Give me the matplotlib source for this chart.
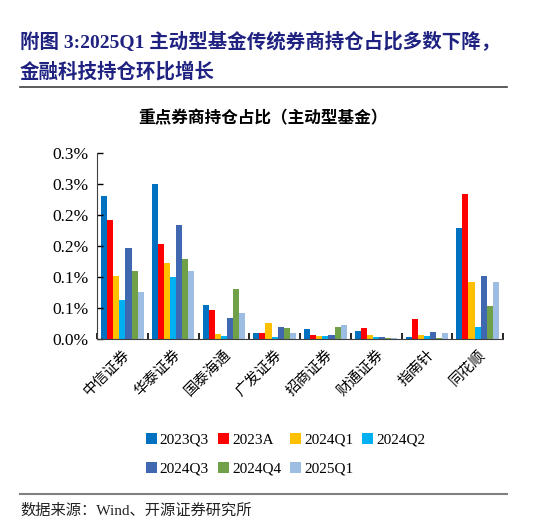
import numpy as np
import matplotlib.pyplot as plt
from matplotlib.ticker import FixedLocator

plt.rcParams['font.family'] = ['Liberation Serif', 'Noto Sans CJK SC']

# data (percent)
brokers = ["中信证券", "华泰证券", "国泰海通", "广发证券", "招商证券", "财通证券", "指南针", "同花顺"]
periods = ["2023Q3", "2023A", "2024Q1", "2024Q2", "2024Q3", "2024Q4", "2025Q1"]
v_2023q3 = [0.230, 0.250, 0.054, 0.010, 0.016, 0.013, 0.003, 0.179]
v_2023a = [0.192, 0.153, 0.047, 0.010, 0.006, 0.017, 0.032, 0.234]
v_2024q1 = [0.102, 0.122, 0.008, 0.025, 0.005, 0.006, 0.007, 0.092]
v_2024q2 = [0.062, 0.099, 0.005, 0.004, 0.005, 0.003, 0.005, 0.020]
v_2024q3 = [0.147, 0.184, 0.033, 0.019, 0.007, 0.003, 0.011, 0.102]
v_2024q4 = [0.109, 0.129, 0.081, 0.017, 0.019, 0.001, 0.002, 0.053]
v_2025q1 = [0.076, 0.110, 0.042, 0.009, 0.022, 0.001, 0.010, 0.091]
yticks = [0.0, 0.05, 0.10, 0.15, 0.20, 0.25, 0.30]
ytick_labels = ["0.0%", "0.1%", "0.1%", "0.2%", "0.2%", "0.3%", "0.3%"]

colors = ["#0070C0", "#FF0000", "#FFC000", "#00B0F0", "#4068B0", "#70A048", "#9DBDE3"]
series = [v_2023q3, v_2023a, v_2024q1, v_2024q2, v_2024q3, v_2024q4, v_2025q1]

cjk = ['Noto Sans CJK SC', 'DejaVu Sans']

fig = plt.figure(figsize=(5.46, 5.2), dpi=100)
ax = fig.add_axes([97 / 546, 1 - 339 / 520, 406 / 546, 186.5 / 520])

x = np.arange(len(brokers))
w = 0.12
for i, (vals, c, lab) in enumerate(zip(series, colors, periods)):
    ax.bar(x + (i - 3) * w, vals, width=w, color=c, label=lab)

ax.set_xlim(-0.5, len(brokers) - 0.5)
ax.set_ylim(0, 0.30)
ax.set_yticks(yticks)
ax.set_yticklabels(ytick_labels, fontsize=12.5)
ax.set_xticks(x)
ax.set_xticklabels(brokers, rotation=45, ha='right', va='top', rotation_mode='anchor',
                   family=cjk, fontsize=10.5)
ax.xaxis.set_minor_locator(FixedLocator(np.arange(-0.5, len(brokers), 1.0)))
ax.tick_params(axis='x', which='major', length=0, pad=6)
ax.tick_params(axis='x', which='minor', direction='in', length=4, width=1.2)
ax.tick_params(axis='y', direction='in', length=4, width=1, pad=6)
for s in ['top', 'right']:
    ax.spines[s].set_visible(False)
ax.spines['left'].set_color('#404040')
ax.spines['bottom'].set_color('#404040')

# legend filled row by row (matplotlib fills by column)
handles, labels = ax.get_legend_handles_labels()
order = [0, 4, 1, 5, 2, 6, 3]
fig.legend([handles[k] for k in order], [labels[k] for k in order],
           loc='upper left', bbox_to_anchor=(140 / 546, 1 - 427 / 520), ncol=4,
           frameon=False, fontsize=11, handlelength=0.7, handleheight=0.7,
           handletextpad=0.2, columnspacing=0.6, labelspacing=1.0, borderaxespad=0)

navy = "#1F2280"
fig.text(20 / 546, 1 - 42 / 520, "附图 3:2025Q1 主动型基金传统券商持仓占比多数下降，",
         family=['Liberation Serif', 'Noto Sans CJK SC'], fontsize=14, fontweight='bold',
         color=navy, va='center', ha='left')
fig.text(20 / 546, 1 - 72 / 520, "金融科技持仓环比增长", family=cjk, fontsize=14,
         fontweight='bold', color=navy, va='center', ha='left')
fig.add_artist(plt.Line2D([20 / 546, 507 / 546], [1 - 87 / 520, 1 - 87 / 520],
                          color='#404040', lw=1.2))
fig.text(263 / 546, 1 - 118 / 520, "重点券商持仓占比（主动型基金）", family=cjk, fontsize=12,
         fontweight='bold', color='black', va='center', ha='center')
fig.add_artist(plt.Line2D([20 / 546, 507 / 546], [1 - 494 / 520, 1 - 494 / 520],
                          color='#808080', lw=1.5))
fig.text(20 / 546, 1 - 511 / 520, "数据来源：Wind、开源证券研究所",
         family=['Liberation Serif', 'Noto Sans CJK SC'], fontsize=11,
         color='#222222', va='center', ha='left')

fig.savefig("out.png", dpi=100)
